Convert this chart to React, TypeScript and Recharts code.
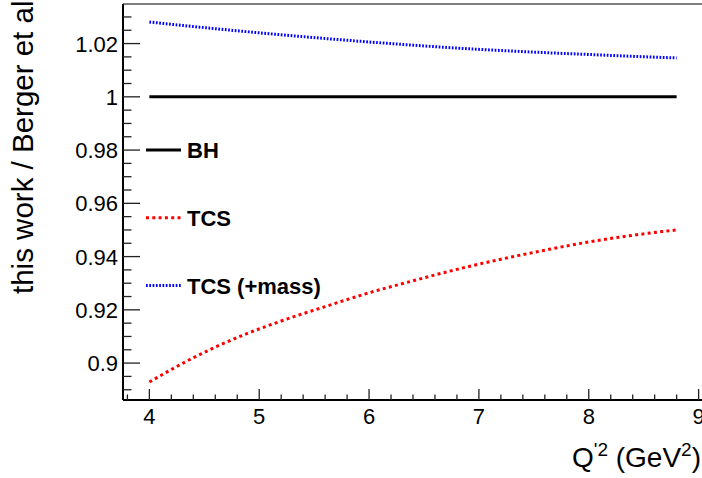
import React from 'react';
import { LineChart, Line, XAxis, YAxis, Legend, ReferenceLine } from 'recharts';

// Q'^2 values (GeV^2)
const qPrime2 = [4.0, 4.4, 4.8, 5.2, 5.6, 6.0, 6.4, 6.8, 7.2, 7.6, 8.0, 8.4, 8.8];
// ratio this work / Berger et al
const bhRatio = [1, 1, 1, 1, 1, 1, 1, 1, 1, 1, 1, 1, 1];
const tcsRatio = [0.8929, 0.902, 0.9096, 0.9158, 0.9212, 0.9264, 0.9309, 0.9352, 0.939, 0.9424, 0.9455, 0.948, 0.95];
const tcsMassRatio = [1.0281, 1.0264, 1.0248, 1.0233, 1.0219, 1.0206, 1.0194, 1.0183, 1.0174, 1.0166, 1.0159, 1.0152, 1.0146];

const seriesNames = ['BH', 'TCS', 'TCS (+mass)'];

const xDomain = [3.76, 9.04];
const yDomain = [0.88614, 1.03486];

const xMajorTicks = [4, 5, 6, 7, 8, 9];
const xTickLabels = ['4', '5', '6', '7', '8', '9'];
const xAllTicks = [3.8, 4, 4.2, 4.4, 4.6, 4.8, 5, 5.2, 5.4, 5.6, 5.8, 6, 6.2, 6.4, 6.6, 6.8, 7, 7.2, 7.4, 7.6, 7.8, 8, 8.2, 8.4, 8.6, 8.8, 9];

const yMajorTicks = [0.9, 0.92, 0.94, 0.96, 0.98, 1, 1.02];
const yTickLabels = ['0.9', '0.92', '0.94', '0.96', '0.98', '1', '1.02'];
const yAllTicks = [0.89, 0.895, 0.9, 0.905, 0.91, 0.915, 0.92, 0.925, 0.93, 0.935, 0.94, 0.945, 0.95, 0.955, 0.96, 0.965, 0.97, 0.975, 0.98, 0.985, 0.99, 0.995, 1, 1.005, 1.01, 1.015, 1.02, 1.025, 1.03];

const data = qPrime2.map((q, i) => ({
  q,
  bh: bhRatio[i],
  tcs: tcsRatio[i],
  tcsMass: tcsMassRatio[i],
}));

const FONT = '"Liberation Sans", Arial, Helvetica, sans-serif';
const TICK_FS = 22;

const majorIndex = (list: number[], v: number) => list.findIndex((m) => Math.abs(m - v) < 1e-6);

const XTick = (props: any) => {
  const { x, y, payload } = props;
  const idx = majorIndex(xMajorTicks, payload.value);
  const len = idx >= 0 ? 11 : 5.5;
  return (
    <g>
      <line x1={x} x2={x} y1={y} y2={y - len} stroke="#222" strokeWidth={1.3} />
      {idx >= 0 && (
        <text x={x} y={y + 24} textAnchor="middle" fontSize={TICK_FS} fontFamily={FONT} fill="#000">
          {xTickLabels[idx]}
        </text>
      )}
    </g>
  );
};

const YTick = (props: any) => {
  const { x, y, payload } = props;
  const idx = majorIndex(yMajorTicks, payload.value);
  const len = idx >= 0 ? 17 : 8.5;
  return (
    <g>
      <line x1={x} x2={x + len} y1={y} y2={y} stroke="#222" strokeWidth={1.3} />
      {idx >= 0 && (
        <text x={x - 5} y={y + 8} textAnchor="end" fontSize={TICK_FS} fontFamily={FONT} fill="#000">
          {yTickLabels[idx]}
        </text>
      )}
    </g>
  );
};

const XTitle = () => (
  <text x={701} y={467} textAnchor="end" fontSize={28} fontFamily={FONT} fill="#000">
    Q<tspan fontSize={19} dy={-11}>'2</tspan>
    <tspan dy={11}> (GeV</tspan>
    <tspan fontSize={19} dy={-11}>2</tspan>
    <tspan dy={11}>)</tspan>
  </text>
);

const YTitle = () => (
  <text
    x={33}
    y={294}
    transform="rotate(-90, 33, 294)"
    textAnchor="start"
    fontSize={29.5}
    fontFamily={FONT}
    fill="#000"
  >
    this work / Berger et al
  </text>
);

const legendStyles = [
  { stroke: '#000', dash: undefined as string | undefined, width: 3 },
  { stroke: '#ff0000', dash: '3 3.3', width: 3 },
  { stroke: '#0000ff', dash: '1.7 1.6', width: 3 },
];

const LegendContent = () => (
  <svg width={220} height={190} style={{ display: 'block', overflow: 'visible' }}>
    {seriesNames.map((name, i) => {
      const cy = 30 + i * 67.8;
      const s = legendStyles[i];
      return (
        <g key={name}>
          <line x1={6} x2={41} y1={cy} y2={cy} stroke={s.stroke} strokeWidth={s.width} strokeDasharray={s.dash} />
          <text x={47} y={cy + 8} fontSize={22} fontWeight="bold" fontFamily={FONT} fill="#000">
            {name}
          </text>
        </g>
      );
    })}
  </svg>
);

export default function App() {
  return (
    <div style={{ position: 'absolute', left: 0, top: 0, width: 702, height: 478, overflow: 'hidden', background: '#fff' }}>
      <LineChart
        width={706}
        height={478}
        data={data}
        margin={{ top: 4, right: 3, left: 0, bottom: 0 }}
        style={{ fontFamily: FONT }}
      >
        <XAxis
          dataKey="q"
          type="number"
          domain={xDomain}
          allowDataOverflow
          ticks={xAllTicks}
          interval={0}
          tick={<XTick />}
          tickLine={false}
          tickSize={0}
          tickMargin={0}
          height={78}
          axisLine={{ stroke: '#000', strokeWidth: 2 }}
          label={<XTitle />}
        />
        <YAxis
          type="number"
          domain={yDomain}
          allowDataOverflow
          ticks={yAllTicks}
          interval={0}
          tick={<YTick />}
          tickLine={false}
          tickSize={0}
          tickMargin={0}
          width={123}
          axisLine={{ stroke: '#000', strokeWidth: 2 }}
          label={<YTitle />}
        />
        <ReferenceLine y={yDomain[1]} stroke="#555" strokeWidth={1.5} ifOverflow="visible" />
        <ReferenceLine x={xDomain[1]} stroke="#555" strokeWidth={1.5} ifOverflow="visible" />
        <Legend
          layout="vertical"
          align="center"
          verticalAlign="middle"
          content={<LegendContent />}
          wrapperStyle={{ left: 140, top: 120, width: 220, height: 190 }}
        />
        <Line
          name={seriesNames[0]}
          dataKey="bh"
          type="monotone"
          stroke="#000"
          strokeWidth={3}
          dot={false}
          isAnimationActive={false}
        />
        <Line
          name={seriesNames[1]}
          dataKey="tcs"
          type="monotone"
          stroke="#ff0000"
          strokeWidth={3}
          strokeDasharray="3 3.3"
          dot={false}
          isAnimationActive={false}
        />
        <Line
          name={seriesNames[2]}
          dataKey="tcsMass"
          type="monotone"
          stroke="#0000ff"
          strokeWidth={3}
          strokeDasharray="1.7 1.6"
          dot={false}
          isAnimationActive={false}
        />
      </LineChart>
    </div>
  );
}
